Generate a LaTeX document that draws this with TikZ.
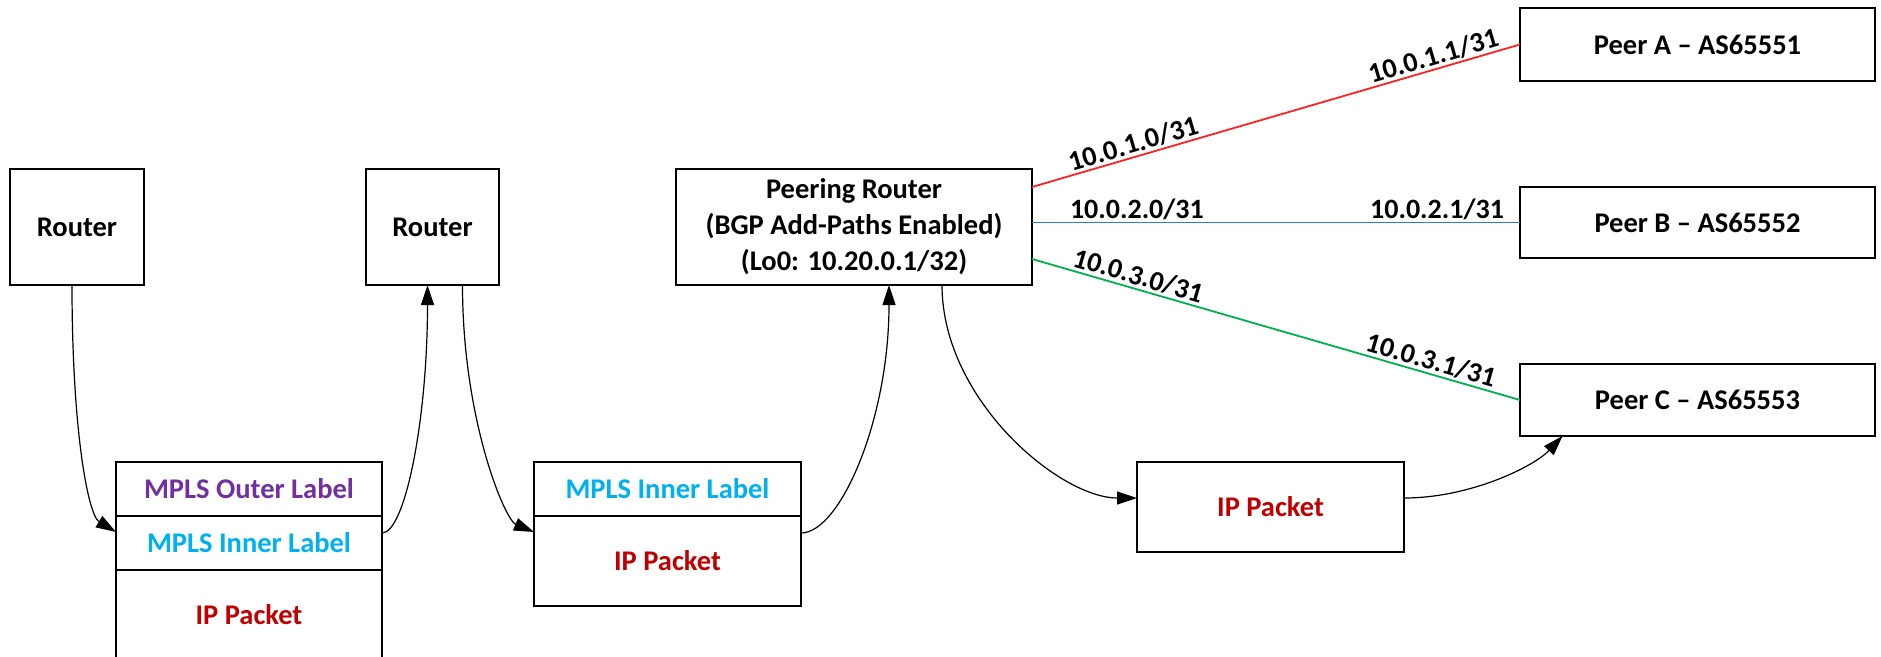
\documentclass[tikz,border=0pt]{standalone}
\usepackage{fontspec}
\setmainfont{Carlito}
\usetikzlibrary{arrows.meta}
\definecolor{outerpurple}{HTML}{7030A0}
\definecolor{innercyan}{HTML}{00B0F0}
\definecolor{packetred}{HTML}{C00000}
\definecolor{linkred}{HTML}{FF2020}
\definecolor{linkblue}{HTML}{2E7BC6}
\definecolor{linkgreen}{HTML}{00B050}

\begin{document}
\begin{tikzpicture}[x=1pt,y=-1pt,
  box/.style={draw,line width=1.5pt,inner sep=0pt,outer sep=0pt,align=center,font=\fontsize{28.5}{36}\selectfont\bfseries},
  flow/.style={line width=1.2pt,-{Triangle[length=20pt,width=13pt]}},
  link/.style={line width=1.8pt},
  addr/.style={sloped,above,inner sep=2pt,text=black,font=\fontsize{28}{30}\selectfont\bfseries}]
\useasboundingbox (0,0) rectangle (1881,656);
\node[box,minimum width=134,minimum height=116] (routerA) at (77,227) {Router};
\node[box,minimum width=133,minimum height=116] (routerB) at (432.5,227) {Router};
\node[box,minimum width=356,minimum height=116] (peering) at (854,227) {Peering Router\\(BGP Add-Paths Enabled)\\(Lo0: 10.20.0.1/32)};
\node[box,minimum width=355,minimum height=73] (peerA) at (1697.5,44.5) {Peer A -- AS65551};
\node[box,minimum width=355,minimum height=71] (peerB) at (1697.5,222.5) {Peer B -- AS65552};
\node[box,minimum width=355,minimum height=72] (peerC) at (1697.5,400) {Peer C -- AS65553};
\node[box,minimum width=266,minimum height=54,text=outerpurple] (outerA) at (249,489) {MPLS Outer Label};
\node[box,minimum width=266,minimum height=54,text=innercyan] (innerA) at (249,543) {MPLS Inner Label};
\node[box,minimum width=266,minimum height=90,text=packetred] (ipA) at (249,615) {IP Packet};
\node[box,minimum width=267,minimum height=54,text=innercyan] (innerB) at (667.5,489) {MPLS Inner Label};
\node[box,minimum width=267,minimum height=90,text=packetred] (ipB) at (667.5,561) {IP Packet};
\node[box,minimum width=267,minimum height=90,text=packetred] (ipC) at (1270.5,507) {IP Packet};
\draw[flow] ([xshift=-5pt]routerA.south) .. controls +(0,145) and +(-28,-17) .. ([yshift=11pt]innerA.west);
\draw[flow] ([yshift=10pt]innerA.east) .. controls +(23,0) and +(0,135) .. ([xshift=-5pt]routerB.south);
\draw[flow] ([xshift=30pt]routerB.south) .. controls +(0,135) and +(-29,-12) .. ([yshift=29pt]ipB.west);
\draw[flow] ([yshift=28pt]ipB.east) .. controls +(39,0) and +(0,135) .. ([xshift=35pt]peering.south);
\draw[flow] ([xshift=88pt]peering.south) .. controls +(0,115) and +(-77,0) .. ([yshift=9pt]ipC.west);
\draw[flow] ([yshift=9pt]ipC.east) .. controls +(67,0) and +(-28,30) .. ([xshift=-135pt]peerC.south);
\draw[link,linkred] ([yshift=40pt]peering.east) -- (peerA.west) node[addr,pos=0.215] {10.0.1.0/31} node[addr,pos=0.83] {10.0.1.1/31};
\draw[link,linkblue] (peering.east |- peerB.west) -- (peerB.west) node[addr,pos=0.215] {10.0.2.0/31} node[addr,pos=0.83] {10.0.2.1/31};
\draw[link,linkgreen] ([yshift=-32pt]peering.east) -- (peerC.west) node[addr,pos=0.21] {10.0.3.0/31} node[addr,pos=0.81] {10.0.3.1/31};
\end{tikzpicture}
\end{document}
